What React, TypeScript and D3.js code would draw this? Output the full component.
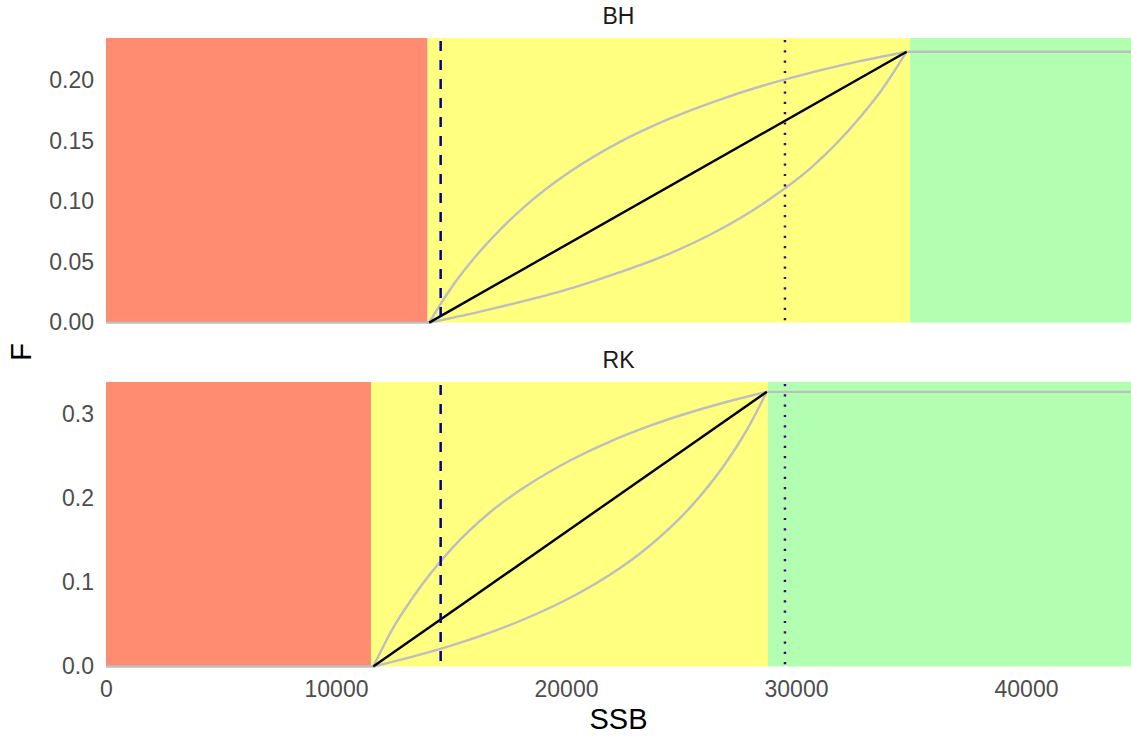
import React, { useEffect, useRef } from 'react';
import * as d3 from 'd3';

// panel names
const panelNames = ["BH", "RK"];

// axis ticks
const xTicks = [0, 10000, 20000, 30000, 40000];
const bhYTicks = [0, 0.05, 0.1, 0.15, 0.2];
const rkYTicks = [0, 0.1, 0.2, 0.3];

// zone limits (red | yellow | green) in SSB
const bhZoneLimits = [13980, 34960];
const rkZoneLimits = [11520, 28780];

// reference lines (dashed, dotted)
const refSSB = [14550, 29520];

// harvest control rule (black line)
const bhRuleSSB = [14050, 34810];
const bhRuleF = [0, 0.2235];
const rkRuleSSB = [11620, 28730];
const rkRuleF = [0, 0.327];

// gray alternative curves, BH
const bhUpperSSB = [14050, 14570, 15090, 16130, 17160, 18200, 20280, 22350, 24430, 26510, 28580, 30660, 32730, 34810];
const bhUpperF = [0, 0.0161, 0.0308, 0.0559, 0.0771, 0.0957, 0.1258, 0.1491, 0.1676, 0.1828, 0.1956, 0.2063, 0.2155, 0.2235];
const bhLowerSSB = [14050, 16130, 18200, 20280, 22350, 24430, 26510, 28580, 30660, 32730, 33770, 34810];
const bhLowerF = [0, 0.0085, 0.0179, 0.0286, 0.0416, 0.0563, 0.0749, 0.0983, 0.1278, 0.1681, 0.1931, 0.2235];

// gray alternative curves, RK
const rkUpperSSB = [11620, 12480, 13330, 15040, 16750, 18460, 20180, 21890, 23600, 25310, 27020, 28730];
const rkUpperF = [0, 0.0458, 0.0818, 0.1406, 0.1848, 0.2181, 0.2453, 0.2675, 0.2861, 0.3018, 0.3152, 0.327];
const rkLowerSSB = [11620, 13330, 15040, 16750, 18460, 20180, 21890, 23600, 25310, 27020, 27870, 28730];
const rkLowerF = [0, 0.0118, 0.0252, 0.0409, 0.0595, 0.0818, 0.1089, 0.1429, 0.1867, 0.2453, 0.2819, 0.327];

const zip = (xs: number[], ys: number[]) => xs.map((x, i) => [x, ys[i]] as [number, number]);

const App = () => {
  const svgRef = useRef<SVGSVGElement>(null);

  useEffect(() => {
    const width = 1131, height = 738;
    const svg = d3.select(svgRef.current).attr("width", width).attr("height", height);
    svg.selectAll("*").remove();

    const font = "'Liberation Sans', Arial, sans-serif";
    const x = d3.scaleLinear().domain([0, 44565]).range([106, 1131]);

    const panels = [
      {
        name: panelNames[0], top: 38, bottom: 322.6, yMax: 0.2348, ticks: bhYTicks, fmt: d3.format(".2f"),
        zones: bhZoneLimits, rule: zip(bhRuleSSB, bhRuleF),
        curves: [zip(bhUpperSSB, bhUpperF), zip(bhLowerSSB, bhLowerF)],
      },
      {
        name: panelNames[1], top: 382, bottom: 666.5, yMax: 0.3387, ticks: rkYTicks, fmt: d3.format(".1f"),
        zones: rkZoneLimits, rule: zip(rkRuleSSB, rkRuleF),
        curves: [zip(rkUpperSSB, rkUpperF), zip(rkLowerSSB, rkLowerF)],
      },
    ];

    const [x0, x1] = x.range();

    panels.forEach((p, pi) => {
      const y = d3.scaleLinear().domain([0, p.yMax]).range([p.bottom, p.top]);
      const g = svg.append("g");

      const clipId = `clip-${pi}`;
      svg.append("clipPath").attr("id", clipId)
        .append("rect").attr("x", x0).attr("y", p.top).attr("width", x1 - x0).attr("height", p.bottom - p.top + 1.5);
      const plot = g.append("g").attr("clip-path", `url(#${clipId})`);

      // zones
      const bounds = [0, p.zones[0], p.zones[1], x.domain()[1]];
      const fills = ["#FF8B70", "#FFFF80", "#B2FFB2"];
      fills.forEach((c, i) => {
        plot.append("rect")
          .attr("x", x(bounds[i])).attr("y", p.top)
          .attr("width", x(bounds[i + 1]) - x(bounds[i]))
          .attr("height", p.bottom - p.top)
          .attr("fill", c);
      });

      // gray curves
      const curve = d3.line<[number, number]>().x(d => x(d[0])).y(d => y(d[1])).curve(d3.curveMonotoneX);
      const flat = d3.line<[number, number]>().x(d => x(d[0])).y(d => y(d[1]));
      p.curves.forEach(c => {
        plot.append("path").attr("d", curve(c)!)
          .attr("fill", "none").attr("stroke", "#BEBEBE").attr("stroke-width", 2.4);
      });
      const first = p.curves[0][0];
      const last = p.curves[0][p.curves[0].length - 1];
      plot.append("path").attr("d", flat([[0, 0], first])!)
        .attr("fill", "none").attr("stroke", "#BEBEBE").attr("stroke-width", 2.4);
      plot.append("path").attr("d", flat([last, [x.domain()[1], last[1]]])!)
        .attr("fill", "none").attr("stroke", "#BEBEBE").attr("stroke-width", 2.4);

      // rule line
      plot.append("path").attr("d", flat(p.rule)!)
        .attr("fill", "none").attr("stroke", "#000").attr("stroke-width", 2.4);

      // reference lines
      plot.append("line")
        .attr("x1", x(refSSB[0])).attr("x2", x(refSSB[0]))
        .attr("y1", p.top).attr("y2", p.bottom)
        .attr("stroke", "#00008B").attr("stroke-width", 2.5).attr("stroke-dasharray", "10,9")
        .attr("stroke-dashoffset", -3);
      plot.append("line")
        .attr("x1", x(refSSB[1])).attr("x2", x(refSSB[1]))
        .attr("y1", p.top).attr("y2", p.bottom)
        .attr("stroke", "#4B0082").attr("stroke-width", 2.5).attr("stroke-dasharray", "2.2,8.1")
        .attr("stroke-dashoffset", -2);

      // y axis
      const yAxis = g.append("g").attr("transform", `translate(${x0},0)`)
        .call(d3.axisLeft(y).tickValues(p.ticks).tickFormat(d => p.fmt(d as number)).tickSize(0).tickPadding(12));
      yAxis.select(".domain").remove();
      yAxis.selectAll("text")
        .style("font-family", font).style("font-size", "23px").style("fill", "#4D4D4D");

      // strip label
      g.append("text")
        .attr("x", (x0 + x1) / 2).attr("y", p.top - 14.5)
        .attr("text-anchor", "middle")
        .style("font-family", font).style("font-size", "23px").style("fill", "#1A1A1A")
        .text(p.name);

      if (pi === panels.length - 1) {
        const xAxis = g.append("g").attr("transform", `translate(0,${p.bottom})`)
          .call(d3.axisBottom(x).tickValues(xTicks).tickFormat(d3.format("d")).tickSize(0).tickPadding(14));
        xAxis.select(".domain").remove();
        xAxis.selectAll("text")
          .style("font-family", font).style("font-size", "23px").style("fill", "#4D4D4D");
      }
    });

    // axis titles
    svg.append("text")
      .attr("x", (x0 + x1) / 2).attr("y", 729)
      .attr("text-anchor", "middle")
      .style("font-family", font).style("font-size", "29px").style("fill", "#000")
      .text("SSB");
    svg.append("text")
      .attr("transform", `translate(31,352) rotate(-90)`)
      .attr("text-anchor", "middle")
      .style("font-family", font).style("font-size", "29px").style("fill", "#000")
      .text("F");
  }, []);

  return (
    <svg ref={svgRef} style={{ position: "absolute", left: 0, top: 0 }}></svg>
  );
};

export default App;
